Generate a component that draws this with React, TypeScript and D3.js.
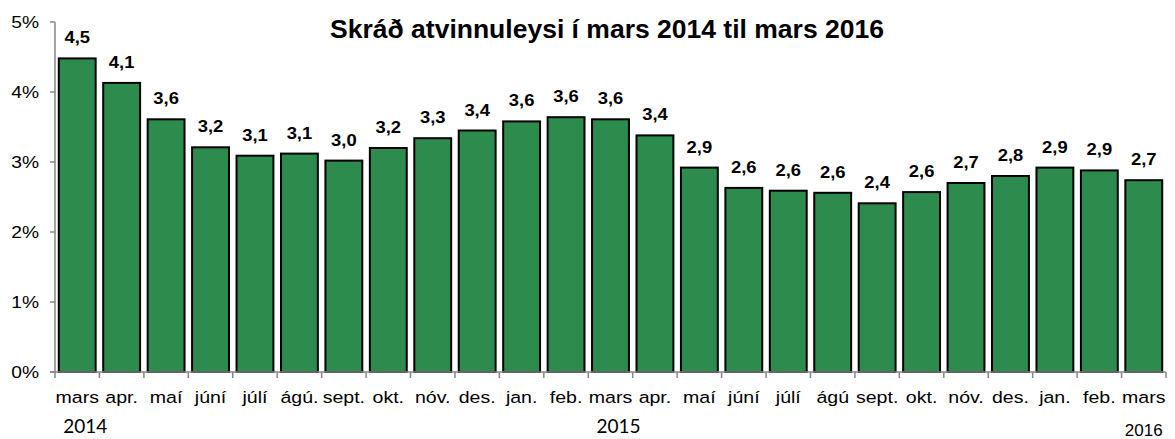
import React from "react";
import * as d3 from "d3";

const months = ["mars","apr.","maí","júní","júlí","ágú.","sept.","okt.","nóv.","des.","jan.","feb.","mars","apr.","maí","júní","júlí","ágú","sept.","okt.","nóv.","des.","jan.","feb.","mars"];
const values = [4.48,4.13,3.61,3.21,3.09,3.12,3.02,3.2,3.34,3.45,3.58,3.64,3.61,3.38,2.92,2.63,2.59,2.56,2.41,2.57,2.7,2.8,2.92,2.88,2.74];
const labels = ["4,5","4,1","3,6","3,2","3,1","3,1","3,0","3,2","3,3","3,4","3,6","3,6","3,6","3,4","2,9","2,6","2,6","2,6","2,4","2,6","2,7","2,8","2,9","2,9","2,7"];
const yTicks = [0,1,2,3,4,5];
const years = [{ idx: 0, label: "2014", dx: 8, dy: 61, font: "Lato" }, { idx: 12, label: "2015", dx: 8, dy: 61, font: "Lato" }, { idx: 24, label: "2016", dx: 0, dy: 64, font: "Liberation Sans, Arial" }];
const title = "Skráð atvinnuleysi í mars 2014 til mars 2016";

export default function App() {
  const W = 1175, H = 439;
  const left = 55, right = 1166, top = 22, bottom = 372;
  const x = d3.scaleBand<number>().domain(d3.range(months.length)).range([left, right]).padding(0);
  const y = d3.scaleLinear().domain([0, 5]).range([bottom, top]);
  const step = x.step();
  const bw = step * 0.83;
  const axisColor = "#868686";
  const font = "Liberation Sans, Arial, sans-serif";
  return (
    <svg width={W} height={H} style={{ position: "absolute", left: 0, top: 0, background: "#fff" }}>
      <rect x={0} y={0} width={W} height={H} fill="#fff" />
      <text x={607} y={38} textAnchor="middle" fontFamily={font} fontWeight="bold" fontSize={26.5}>{title}</text>
      {values.map((v, i) => {
        const cx = (x(i) as number) + step / 2;
        return (
          <g key={i}>
            <rect x={cx - bw / 2} y={y(v)} width={bw} height={bottom - y(v)} fill="#2E8B4E" stroke="#000" strokeWidth={2} />
            <text transform={`translate(${cx},${y(v) - 15}) scale(1.15,1)`} textAnchor="middle" fontFamily={font} fontWeight="bold" fontSize={16}>{labels[i]}</text>
            <text transform={`translate(${cx},${bottom + 31}) scale(1.15,1)`} textAnchor="middle" fontFamily={font} fontSize={17}>{months[i]}</text>
          </g>
        );
      })}
      <line x1={left} x2={left} y1={top} y2={bottom} stroke={axisColor} strokeWidth={1.5} />
      <line x1={left - 5} x2={right} y1={bottom} y2={bottom} stroke={axisColor} strokeWidth={1.5} />
      {yTicks.map((t) => (
        <g key={t}>
          <line x1={left - 5} x2={left} y1={y(t)} y2={y(t)} stroke={axisColor} strokeWidth={1.5} />
          <text transform={`translate(${left - 16},${y(t) + 6}) scale(1.2,1)`} textAnchor="end" fontFamily={font} fontSize={16}>{t}%</text>
        </g>
      ))}
      {d3.range(months.length + 1).map((i) => {
        const xx = left + i * step;
        return <line key={i} x1={xx} x2={xx} y1={bottom} y2={bottom + 6} stroke={axisColor} strokeWidth={1.5} />;
      })}
      {years.map((yr) => (
        <text key={yr.label} x={(x(yr.idx) as number) + step / 2 + yr.dx} y={bottom + yr.dy} textAnchor="middle" fontFamily={yr.font} fontSize={yr.font === "Lato" ? 19 : 17}>{yr.label}</text>
      ))}
    </svg>
  );
}
